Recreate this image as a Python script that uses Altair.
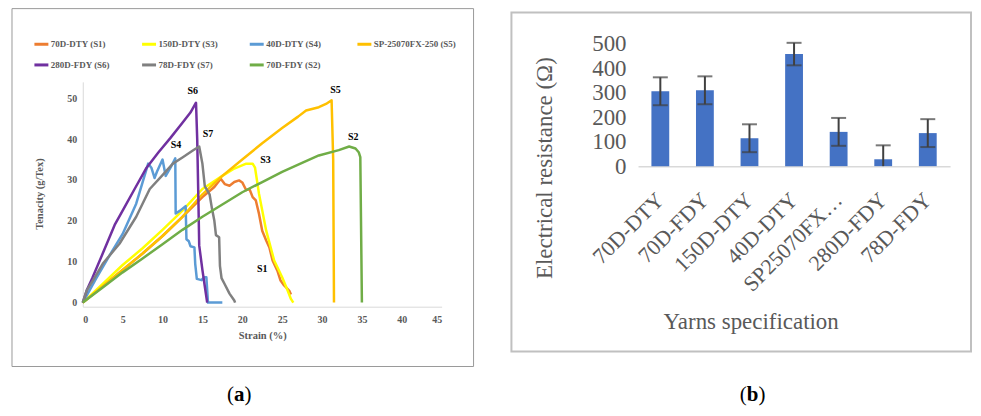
import altair as alt
import pandas as pd

SERIF = "Liberation Serif"

# ---------------- Panel (a): tensile curves ----------------
SERIES = ["70D-DTY (S1)", "150D-DTY (S3)", "40D-DTY (S4)", "SP-25070FX-250 (S5)",
          "280D-FDY (S6)", "78D-FDY (S7)", "70D-FDY (S2)"]
COLORS = ["#ED7D31", "#FFFF00", "#5B9BD5", "#FFC000", "#7030A0", "#808080", "#70AD47"]

s1_strain = [0, 2.5, 5, 7.5, 10, 12.5, 15, 16.5, 17.3, 17.8, 18.4, 19.0, 19.6, 20.0, 20.5,
             20.9, 21.3, 21.7, 22.1, 22.5, 23.0, 23.4, 23.8, 24.4, 24.8, 25.25, 25.9, 26.1]
s1_tenacity = [0, 4.0, 8.0, 12.0, 16.3, 21.0, 25.8, 28.3, 30.3, 29.0, 28.6, 29.5, 29.9, 29.4, 27.5,
               27.8, 25.8, 25.0, 21.7, 17.6, 15.2, 13.5, 10.3, 7.8, 5.4, 4.2, 2.9, 2.0]

s3_strain = [0, 2.5, 5, 7.5, 10, 12.5, 15, 17.5, 19, 20.5, 21.3, 21.6, 22.1, 23.0, 24.0,
             25.0, 25.7, 26.1, 26.4]
s3_tenacity = [0, 4.6, 9.2, 13.3, 17.8, 22.5, 27.8, 31.0, 32.8, 34.0, 34.0, 33.0, 26.6, 17.6, 10.3,
               6.2, 2.9, 0.9, 0]

s4_strain = [0, 1.7, 3.4, 5.0, 6.7, 8.2, 8.6, 9.0, 9.3, 10.0, 10.4, 11.0, 11.6, 11.65, 12.2,
             12.9, 13.0, 13.3, 13.5, 14.0, 14.1, 14.3, 14.9, 15.2, 15.5, 15.7, 17.5]
s4_tenacity = [0, 6.0, 11.7, 16.8, 24.2, 34.0, 33.0, 30.5, 32.0, 35.0, 31.0, 33.0, 35.3, 21.8, 22.5,
               23.6, 15.5, 15.0, 13.8, 13.5, 9.5, 5.8, 5.5, 6.2, 6.2, 0, 0]

s5_strain = [0, 2.5, 5, 7.5, 10, 12.5, 15, 17.5, 20, 22.5, 25, 27, 28, 29.6, 30.5, 31.2, 31.4, 31.5]
s5_tenacity = [0, 4.0, 8.0, 12.0, 16.3, 21.0, 26.5, 31.0, 35.0, 39.0, 42.7, 45.5, 47.0, 47.8, 48.6,
               49.5, 35.0, 0]

s6_strain = [0, 0.5, 1.2, 2.5, 4, 5, 6.5, 8, 9.5, 11, 12.5, 13.5, 14.2, 14.35, 14.5, 14.6, 15.0,
             15.3, 15.6]
s6_tenacity = [0, 3, 6, 12, 19, 22.5, 27.8, 33, 36.8, 40.3, 44, 46.5, 48.9, 40, 25, 14, 8, 4, 0]

s7_strain = [0, 0.5, 1.3, 2.5, 4.6, 6.7, 8.4, 10, 11.3, 12.5, 13.8, 14.6, 15.0, 15.3, 15.9, 16.2,
             16.5, 16.7, 17.1, 17.2, 17.4, 17.8, 18.4, 19.0, 19.1]
s7_tenacity = [0, 3, 5.5, 9.5, 14.4, 21, 27.8, 31.2, 34, 35.5, 37.2, 38.2, 34, 28.5, 26.5, 23,
               20, 16.5, 16, 9, 6, 4.5, 2.2, 0.5, 0]

s2_strain = [0, 2.5, 5, 7.5, 10, 12.5, 15, 17.5, 20, 22.5, 25, 27.5, 29.6, 32.1, 33.4, 34.2,
             34.6, 34.8, 35.0]
s2_tenacity = [0, 3.7, 7.4, 10.8, 14.3, 17.8, 21.0, 24.0, 27.0, 29.5, 32.0, 34.2, 36.0, 37.3,
               38.2, 37.7, 36.8, 35.6, 0]

peak_labels = ["S6", "S5", "S7", "S4", "S3", "S2", "S1"]
peak_label_strain = [13.8, 31.7, 15.7, 11.7, 22.9, 33.9, 22.5]
peak_label_tenacity = [51.8, 52.1, 41.3, 38.5, 34.8, 40.5, 8.3]

strain_ticks = [0, 5, 10, 15, 20, 25, 30, 35, 40, 45]
tenacity_ticks = [0, 10, 20, 30, 40, 50]

# ---------------- Panel (b): electrical resistance ----------------
yarns = ["70D-DTY", "70D-FDY", "150D-DTY", "40D-DTY", "SP25070FX-250", "280D-FDY", "78D-FDY"]
resistance = [306, 310, 114, 458, 140, 28, 135]
resistance_err = [57, 57, 57, 46, 57, 57, 57]
resistance_ticks = [0, 100, 200, 300, 400, 500]

# ---------------- build tables ----------------
curves = [
    (SERIES[0], s1_strain, s1_tenacity),
    (SERIES[1], s3_strain, s3_tenacity),
    (SERIES[2], s4_strain, s4_tenacity),
    (SERIES[3], s5_strain, s5_tenacity),
    (SERIES[4], s6_strain, s6_tenacity),
    (SERIES[5], s7_strain, s7_tenacity),
    (SERIES[6], s2_strain, s2_tenacity),
]
rows = []
for name, xs, ys in curves:
    for i, (xv, yv) in enumerate(zip(xs, ys)):
        rows.append({"series": name, "strain": xv, "tenacity": yv, "i": i})
lines_df = pd.DataFrame(rows)

peaks_df = pd.DataFrame({"label": peak_labels, "strain": peak_label_strain,
                         "tenacity": peak_label_tenacity})

bars_df = pd.DataFrame({"yarn": yarns, "res": resistance, "err": resistance_err})
bars_df["lo"] = (bars_df["res"] - bars_df["err"]).clip(lower=0)
bars_df["hi"] = bars_df["res"] + bars_df["err"]
caps_df = pd.concat([
    pd.DataFrame({"yarn": bars_df["yarn"], "cap": bars_df["hi"]}),
    pd.DataFrame({"yarn": bars_df["yarn"], "cap": bars_df["lo"]})[bars_df["lo"] > 0],
])

# ---------------- panel (a) ----------------
xa = alt.X("strain:Q",
           scale=alt.Scale(domain=[0, 45], range=[75, 435], nice=False, zero=False),
           axis=alt.Axis(orient="bottom", offset=-101, values=strain_ticks, title="Strain (%)",
                         grid=False, ticks=False, tickSize=0, domainColor="#d9d9d9",
                         labelFont=SERIF, labelFontWeight="bold", labelFontSize=10,
                         labelColor="#595959", labelPadding=8,
                         titleFont=SERIF, titleFontWeight="bold", titleFontSize=10.5,
                         titleColor="#595959", titleY=29, titleBaseline="middle"))
ya = alt.Y("tenacity:Q",
           scale=alt.Scale(domain=[-1, 54], range=[299, 73.5], nice=False, zero=False),
           axis=alt.Axis(orient="left", offset=-75, values=tenacity_ticks, title="Tenacity (g/Tex)",
                         grid=False, ticks=False, tickSize=0, domainColor="#d9d9d9",
                         labelFont=SERIF, labelFontWeight="bold", labelFontSize=10,
                         labelColor="#595959", labelPadding=6,
                         titleFont=SERIF, titleFontWeight="bold", titleFontSize=10.5,
                         titleColor="#595959", titleX=-43, titleY=185.5, titleAngle=270,
                         titleAlign="center", titleBaseline="middle"))

lines = alt.Chart(lines_df).mark_line(strokeWidth=2.5, strokeJoin="round").encode(
    x=xa, y=ya,
    color=alt.Color("series:N",
                    scale=alt.Scale(domain=SERIES, range=COLORS),
                    legend=alt.Legend(orient="none", legendX=25, legendY=27, direction="horizontal",
                                      columns=4, gridAlign="all", title=None,
                                      symbolType="stroke", symbolSize=196, symbolStrokeWidth=3,
                                      labelFont=SERIF, labelFontWeight="bold", labelFontSize=9,
                                      labelColor="#595959", labelOffset=1, padding=0,
                                      columnPadding=2, rowPadding=6)),
    order=alt.Order("i:Q"),
)
peaks = alt.Chart(peaks_df).mark_text(font=SERIF, fontWeight="bold", fontSize=10,
                                      color="black").encode(
    x=alt.X("strain:Q"), y=alt.Y("tenacity:Q"), text="label:N")
panel_a = alt.layer(lines, peaks)

# ---------------- panel (b) ----------------
xb = alt.X("yarn:N", sort=yarns,
           scale=alt.Scale(range=[632, 945], paddingInner=0.6, paddingOuter=0.3),
           axis=alt.Axis(orient="bottom", offset=-242, title="Yarns specification",
                         labelAngle=315, labelAlign="right", labelBaseline="middle",
                         labelPadding=30, labelFont=SERIF, labelFontSize=22,
                         labelColor="#595959", labelLimit=300,
                         labelExpr="datum.label == 'SP25070FX-250' ? 'SP25070FX…' : datum.label",
                         domainColor="#d9d9d9", domainWidth=1.5, ticks=False, tickSize=0,
                         titleFont=SERIF, titleFontSize=23, titleFontWeight="normal",
                         titleColor="#595959", titleX=745, titleY=156,
                         titleAlign="center", titleBaseline="middle"))
yb = alt.Y("res:Q",
           scale=alt.Scale(domain=[0, 500], range=[158, 35.3], nice=False),
           axis=alt.Axis(orient="left", offset=-632, values=resistance_ticks, grid=False,
                         domain=False, ticks=False, tickSize=0, labelPadding=12,
                         labelFont=SERIF, labelFontSize=23, labelColor="#595959",
                         title="Electrical resistance (Ω)", titleFont=SERIF, titleFontSize=23,
                         titleFontWeight="normal", titleColor="#595959",
                         titleX=-94, titleY=159.5, titleAngle=270,
                         titleAlign="center", titleBaseline="middle"))

bars = alt.Chart(bars_df).mark_bar(color="#4472C4").encode(x=xb, y=yb)
err_rule = alt.Chart(bars_df).mark_rule(color="#404040", strokeWidth=2).encode(
    x=alt.X("yarn:N", sort=yarns), y=alt.Y("lo:Q"), y2="hi:Q")
err_caps = alt.Chart(caps_df).mark_tick(color="#404040", thickness=2, size=15).encode(
    x=alt.X("yarn:N", sort=yarns), y=alt.Y("cap:Q"))
panel_b = alt.layer(bars, err_rule, err_caps)

# ---------------- frames and captions ----------------
one = pd.DataFrame({"k": [0]})
frame_a = alt.Chart(one).mark_rect(filled=False, stroke="#9a9a9a", strokeWidth=1).encode(
    x=alt.value(4), x2=alt.value(467), y=alt.value(0), y2=alt.value(359))
frame_b = alt.Chart(one).mark_rect(filled=False, stroke="#c0c0c0", strokeWidth=2).encode(
    x=alt.value(505), x2=alt.value(966), y=alt.value(4), y2=alt.value(344))

CAP_Y = 388


def caption(letter, cx, half):
    base = dict(font=SERIF, fontSize=21, color="black", baseline="middle")
    lp = alt.Chart(one).mark_text(align="right", **base).encode(
        x=alt.value(cx - half), y=alt.value(CAP_Y), text=alt.value("("))
    mid = alt.Chart(one).mark_text(align="center", fontWeight="bold", **base).encode(
        x=alt.value(cx), y=alt.value(CAP_Y), text=alt.value(letter))
    rp = alt.Chart(one).mark_text(align="left", **base).encode(
        x=alt.value(cx + half), y=alt.value(CAP_Y), text=alt.value(")"))
    return [lp, mid, rp]


deco = alt.layer(frame_a, frame_b, *caption("a", 232, 5.3), *caption("b", 747, 5.9))

chart = alt.layer(panel_a, panel_b, deco).resolve_scale(
    x="independent", y="independent"
).properties(
    width=968, height=400, padding=0,
    autosize=alt.AutoSizeParams(type="none"),
).configure_view(strokeWidth=0)

chart.save("out.html", embed_options={"renderer": "svg", "actions": False})
